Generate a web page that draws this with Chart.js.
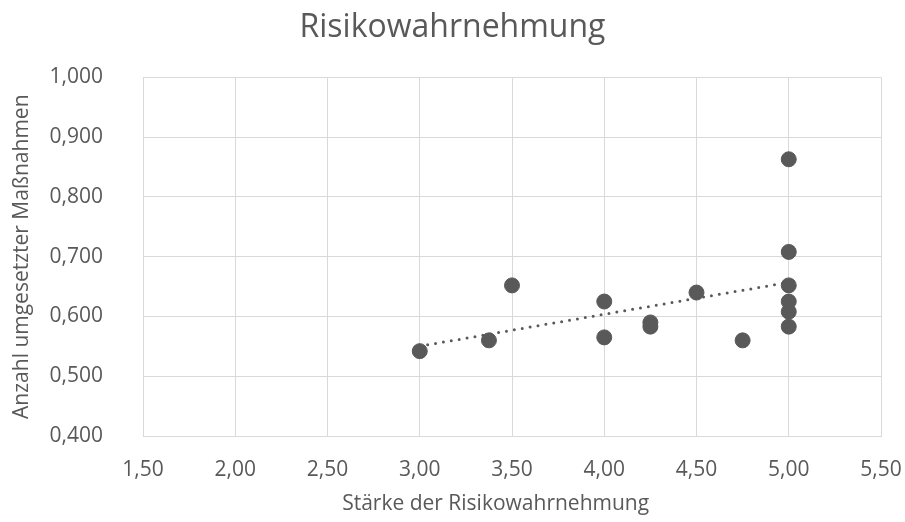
<!DOCTYPE html>
<html lang="de">
<head>
    <meta charset="UTF-8">
    <title>Risikowahrnehmung</title>
    <script src="https://cdn.jsdelivr.net/npm/chart.js"></script>
    <style>
        html, body { margin: 0; padding: 0; background: #fff; }
        #wrap { width: 905px; height: 522px; }
    </style>
</head>
<body>
    <div id="wrap"><canvas id="myChart"></canvas></div>

    <script>
        // Stärke der Risikowahrnehmung (x) / Anzahl umgesetzter Maßnahmen (y)
        var staerke = [3.00, 3.375, 3.50, 4.00, 4.00, 4.25, 4.25, 4.50, 4.75, 5.00, 5.00, 5.00, 5.00, 5.00, 5.00];
        var massnahmen = [0.542, 0.560, 0.652, 0.625, 0.565, 0.590, 0.583, 0.640, 0.560, 0.863, 0.708, 0.652, 0.625, 0.608, 0.583];

        var xMin = 1.5, xMax = 5.5, xStep = 0.5;
        var yMin = 0.4, yMax = 1.0, yStep = 0.1;

        var grau = '#595959';
        var gitter = '#d9d9d9';
        var schrift = "'Open Sans', sans-serif";

        var punkte = staerke.map(function (x, i) { return { x: x, y: massnahmen[i] }; });

        // lineare Trendlinie (kleinste Quadrate)
        var n = staerke.length, sx = 0, sy = 0, sxy = 0, sxx = 0;
        for (var i = 0; i < n; i++) {
            sx += staerke[i]; sy += massnahmen[i];
            sxy += staerke[i] * massnahmen[i]; sxx += staerke[i] * staerke[i];
        }
        var steigung = (n * sxy - sx * sy) / (n * sxx - sx * sx);
        var achse = (sy - steigung * sx) / n;
        var xLo = Math.min.apply(null, staerke), xHi = Math.max.apply(null, staerke);
        var trend = [
            { x: xLo, y: achse + steigung * xLo },
            { x: xHi, y: achse + steigung * xHi }
        ];

        function komma(v, d) { return v.toFixed(d).replace('.', ','); }

        var ctx = document.getElementById('myChart').getContext('2d');
        var myChart = new Chart(ctx, {
            type: 'scatter',
            data: {
                datasets: [
                    {
                        label: 'Trend',
                        data: trend,
                        showLine: true,
                        borderColor: grau,
                        borderWidth: 3,
                        borderDash: [0, 8],
                        borderCapStyle: 'round',
                        pointRadius: 0,
                        pointHoverRadius: 0
                    },
                    {
                        label: 'Maßnahmen',
                        data: punkte,
                        backgroundColor: grau,
                        borderColor: grau,
                        pointRadius: 7.5,
                        pointHoverRadius: 7.5
                    }
                ]
            },
            options: {
                responsive: true,
                maintainAspectRatio: false,
                animation: false,
                layout: { padding: 0 },
                plugins: {
                    legend: { display: false },
                    tooltip: { enabled: false },
                    title: {
                        display: true,
                        text: 'Risikowahrnehmung',
                        color: grau,
                        font: { family: schrift, size: 32, weight: 'normal' },
                        padding: { top: 9, bottom: 30 }
                    }
                },
                scales: {
                    x: {
                        type: 'linear',
                        min: xMin, max: xMax,
                        afterFit: function (s) {
                            s.height = 86;
                            s.paddingLeft = 0;
                            s.paddingRight = 24;
                        },
                        ticks: {
                            stepSize: xStep,
                            color: grau,
                            padding: 21,
                            font: { family: schrift, size: 21 },
                            callback: function (v) { return komma(v, 2); }
                        },
                        grid: { color: gitter, drawTicks: false },
                        border: { color: gitter },
                        title: {
                            display: true,
                            text: 'Stärke der Risikowahrnehmung      ',
                            color: grau,
                            font: { family: schrift, size: 21 },
                            padding: { top: 0, bottom: 5 }
                        }
                    },
                    y: {
                        type: 'linear',
                        min: yMin, max: yMax,
                        afterFit: function (s) { s.width = 143; },
                        ticks: {
                            stepSize: yStep,
                            color: grau,
                            padding: 40,
                            font: { family: schrift, size: 21 },
                            callback: function (v) { return komma(v, 3); }
                        },
                        grid: { color: gitter, drawTicks: false },
                        border: { color: gitter },
                        title: {
                            display: true,
                            text: 'Anzahl umgesetzter Maßnahmen',
                            color: grau,
                            font: { family: schrift, size: 21 },
                            padding: { top: 9, bottom: 0 }
                        }
                    }
                }
            }
        });
    </script>
</body>
</html>
